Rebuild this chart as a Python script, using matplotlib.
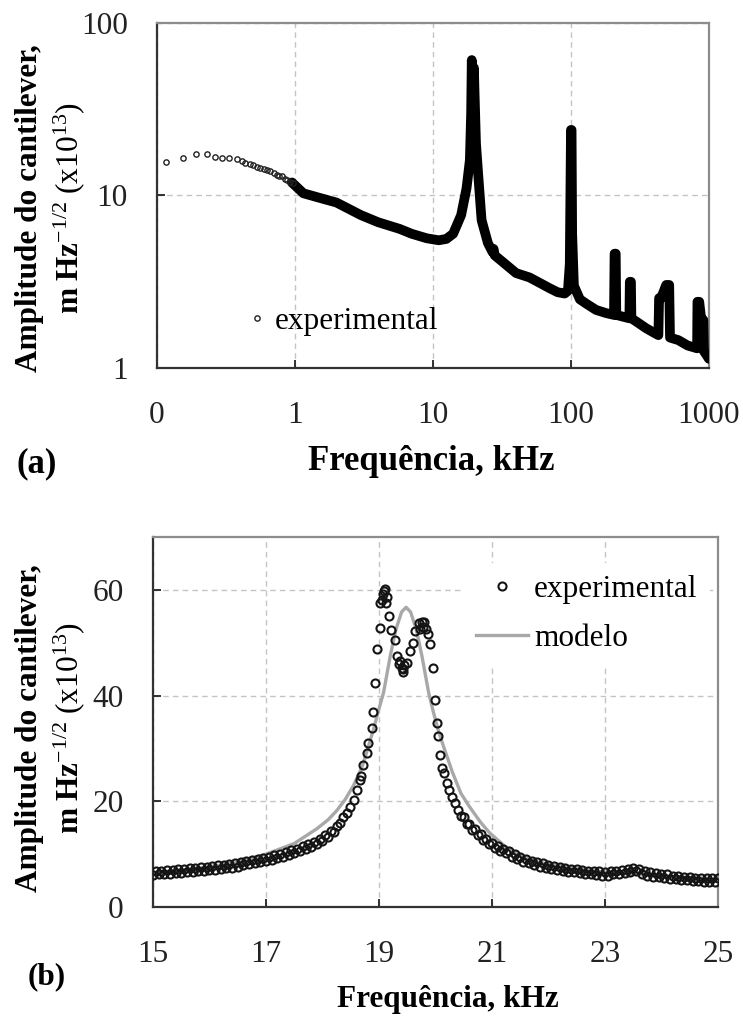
import matplotlib
matplotlib.use("Agg")
import matplotlib.pyplot as plt
from matplotlib.ticker import NullLocator

# ---- panel (a): full spectrum, log-log ----
sparse_f = [0.116, 0.154, 0.192, 0.229, 0.263, 0.294, 0.334, 0.378, 0.41, 0.434,
            0.47, 0.50, 0.528, 0.56, 0.60, 0.63, 0.659, 0.70, 0.74, 0.77,
            0.80, 0.84, 0.88, 0.92, 0.972]
sparse_a = [15.6, 16.6, 17.4, 17.4, 16.8, 16.6, 16.4, 16.2, 15.8, 15.4,
            15.2, 15.0, 14.7, 14.5, 14.2, 14.0, 13.9, 13.5, 13.2, 13.0,
            12.9, 12.5, 12.3, 12.0, 11.8]

dense_f = [0.95, 1.15, 1.5, 2.0, 3.0, 4.0, 5.74, 7.0, 9.0, 11.0, 12.5, 14.0,
           16.0, 17.5, 18.5, 18.9, 19.1, 19.4, 19.8, 20.0, 20.5, 21.3, 22.5, 25.0,
           27.0, 27.5, 28.0, 30.0, 40.0, 50.0, 60.0, 70.0, 80.0, 90.0, 95.0, 98.0,
           100.0, 101.0, 102.0, 105.0, 116.0, 130.0, 152.0, 180.0, 205.0, 207.0,
           211.0, 213.0, 240.0, 265.0, 267.0, 272.0, 274.0, 300.0, 350.0, 400.0,
           430.0, 435.0, 450.0, 490.0, 500.0, 515.0, 522.0, 600.0, 700.0, 820.0,
           825.0, 850.0, 880.0, 910.0, 920.0, 1000.0]
dense_a = [11.9, 10.3, 9.7, 9.1, 7.7, 7.0, 6.4, 6.0, 5.65, 5.5, 5.6, 6.0,
           7.7, 11.0, 16.0, 30.0, 61.0, 45.0, 55.0, 40.0, 20.0, 13.0, 7.2, 5.3,
           4.7, 4.9, 4.5, 4.3, 3.55, 3.35, 3.1, 2.9, 2.75, 2.7, 2.8, 4.0,
           24.0, 24.0, 6.0, 3.0, 2.5, 2.35, 2.17, 2.08, 2.03, 4.6,
           4.6, 2.03, 1.98, 1.94, 3.16, 3.16, 1.94, 1.85, 1.7, 1.6,
           1.55, 2.54, 2.54, 3.03, 3.03, 3.03, 1.5, 1.45, 1.35, 1.3,
           2.42, 2.42, 1.9, 1.9, 1.25, 1.13]

top_xticks = [0.1, 1, 10, 100, 1000]
top_xtick_labels = ["0", "1", "10", "100", "1000"]
top_yticks = [1, 10, 100]
top_ytick_labels = ["1", "10", "100"]

# ---- panel (b): zoom on first resonance ----
exp_f = [15.00, 15.05, 15.10, 15.15, 15.20, 15.25, 15.30, 15.35, 15.40, 15.45,
         15.50, 15.55, 15.60, 15.65, 15.70, 15.75, 15.80, 15.85, 15.90, 15.95,
         16.00, 16.05, 16.10, 16.15, 16.20, 16.25, 16.30, 16.35, 16.40, 16.45,
         16.50, 16.55, 16.60, 16.65, 16.70, 16.75, 16.80, 16.85, 16.90, 16.95,
         17.00, 17.05, 17.10, 17.15, 17.20, 17.25, 17.30, 17.35, 17.40, 17.45,
         17.50, 17.55, 17.60, 17.65, 17.70, 17.75, 17.80, 17.85, 17.90, 17.95,
         18.00, 18.05, 18.10, 18.15, 18.20, 18.25,
         18.31, 18.37, 18.43, 18.49, 18.55, 18.61, 18.66, 18.69, 18.72, 18.78,
         18.81, 18.87, 18.90, 18.93, 18.96, 19.01, 19.02, 19.06, 19.07, 19.09,
         19.11, 19.12, 19.14, 19.18, 19.21, 19.28, 19.32, 19.36, 19.38, 19.40,
         19.42, 19.43, 19.45, 19.49, 19.55, 19.60, 19.64, 19.70, 19.72, 19.76,
         19.78, 19.80, 19.83, 19.87, 19.91, 19.96, 19.99, 20.02, 20.05, 20.08,
         20.11, 20.15, 20.20, 20.24, 20.29, 20.35, 20.40,
         20.45, 20.50, 20.55, 20.60, 20.65, 20.70, 20.75, 20.80, 20.85, 20.90,
         20.95, 21.00, 21.05, 21.10, 21.15, 21.20, 21.25, 21.30, 21.35, 21.40,
         21.45, 21.50, 21.55, 21.60, 21.65, 21.70, 21.75, 21.80, 21.85, 21.90,
         21.95, 22.00, 22.05, 22.10, 22.15, 22.20, 22.25, 22.30, 22.35, 22.40,
         22.45, 22.50, 22.55, 22.60, 22.65, 22.70, 22.75, 22.80, 22.85, 22.90,
         22.95, 23.00, 23.05, 23.10, 23.15, 23.20, 23.25, 23.30, 23.35, 23.40,
         23.45, 23.50, 23.55, 23.60, 23.65, 23.70, 23.75, 23.80, 23.85, 23.90,
         23.95, 24.00, 24.05, 24.10, 24.15, 24.20, 24.25, 24.30, 24.35, 24.40,
         24.45, 24.50, 24.55, 24.60, 24.65, 24.70, 24.75, 24.80, 24.85, 24.90,
         24.95, 25.00]
exp_a = [6.10, 6.85, 6.15, 6.90, 6.25, 6.95, 6.30, 7.05, 6.35, 7.10,
         6.45, 7.20, 6.55, 7.30, 6.65, 7.40, 6.75, 7.50, 6.85, 7.60,
         6.95, 7.70, 7.05, 7.85, 7.20, 7.95, 7.35, 8.10, 7.45, 8.25,
         7.65, 8.45, 7.85, 8.65, 8.05, 8.85, 8.25, 9.05, 8.45, 9.25,
         8.65, 9.50, 8.95, 9.80, 9.25, 10.10, 9.55, 10.40, 9.85, 10.70,
         10.15, 11.05, 10.55, 11.45, 10.95, 11.85, 11.35, 12.30, 11.85, 12.85,
         12.45, 13.55, 13.25, 14.45, 14.25, 15.40,
         15.9, 17.1, 17.8, 19.0, 20.3, 22.2, 24.1, 24.7, 26.9, 29.2,
         31.1, 33.9, 36.8, 42.4, 48.8, 52.7, 57.6, 58.0, 59.2, 59.8,
         60.2, 57.5, 58.6, 55.0, 52.4, 50.5, 47.4, 45.9, 46.5, 45.3,
         44.5, 45.0, 45.8, 46.2, 48.4, 50.0, 52.2, 53.8, 52.5, 53.9,
         52.9, 54.0, 52.6, 51.6, 49.7, 45.3, 39.1, 34.9, 32.3, 28.8,
         26.3, 25.4, 23.5, 22.2, 20.9, 19.7, 18.4,
         17.30, 17.00, 15.70, 15.70, 14.60, 14.70, 13.60, 13.80, 12.70, 12.90,
         11.90, 12.20, 11.15, 11.55, 10.65, 11.05, 10.15, 10.55, 9.55, 9.95,
         9.05, 9.45, 8.55, 9.15, 8.25, 8.75, 7.95, 8.45, 7.65, 8.25,
         7.35, 7.95, 7.15, 7.75, 6.95, 7.55, 6.75, 7.45, 6.65, 7.25,
         6.55, 7.15, 6.35, 7.05, 6.25, 6.85, 6.15, 6.85, 6.05, 6.75,
         5.95, 6.65, 5.85, 6.75, 6.15, 6.85, 6.25, 6.95, 6.35, 7.15,
         6.55, 7.35, 6.75, 7.25, 6.25, 6.75, 5.95, 6.55, 5.75, 6.35,
         5.65, 6.25, 5.45, 6.15, 5.35, 5.95, 5.25, 5.85, 5.15, 5.75,
         5.05, 5.65, 4.95, 5.55, 4.85, 5.45, 4.75, 5.45, 4.65, 5.45,
         4.65, 5.45]

model_f = [15.0, 15.5, 16.0, 16.5, 17.0, 17.5, 17.9, 18.1, 18.25, 18.4, 18.55,
           18.7, 18.78, 18.9, 19.0, 19.08, 19.2, 19.3, 19.4, 19.48, 19.56, 19.66,
           19.76, 19.88, 19.96, 20.06, 20.18, 20.3, 20.45, 20.6, 20.8, 20.96,
           21.25, 21.55, 21.85, 22.15, 22.45, 22.73, 23.0, 23.5, 24.0, 24.5, 25.0]
model_a = [6.5, 7.0, 7.6, 8.5, 10.0, 12.0, 14.8, 16.5, 18.2, 20.3, 23.0,
           26.5, 29.2, 33.5, 37.5, 40.5, 47.5, 52.5, 55.8, 56.7, 55.8, 52.5,
           47.5, 40.5, 37.0, 33.0, 29.2, 25.5, 21.5, 19.0, 16.0, 14.0,
           11.3, 9.4, 8.4, 7.8, 7.3, 6.9, 6.6, 6.2, 5.9, 5.6, 5.3]

bot_xticks = [15, 17, 19, 21, 23, 25]
bot_yticks = [0, 20, 40, 60]

plt.rcParams["font.family"] = "Liberation Serif"
plt.rcParams["mathtext.fontset"] = "custom"
plt.rcParams["mathtext.rm"] = "Liberation Serif"
plt.rcParams["mathtext.bf"] = "Liberation Serif:bold"
plt.rcParams["mathtext.it"] = "Liberation Serif:italic"

FS = 22.5

fig = plt.figure(figsize=(7.43, 10.23), dpi=100)
ax1 = fig.add_axes([0.2113, 0.6403, 0.7429, 0.3372])
ax2 = fig.add_axes([0.2059, 0.1134, 0.7604, 0.3617])

grid_kw = dict(color="#c4c4c4", linestyle=(0, (4, 3)), linewidth=1)


def style(ax, xpad, ypad):
    ax.set_axisbelow(True)
    ax.grid(True, which="major", **grid_kw)
    ax.tick_params(direction="in", length=6, width=1.3, labelsize=FS,
                   colors="#222222")
    ax.tick_params(axis="x", pad=xpad)
    ax.tick_params(axis="y", pad=ypad)
    ax.tick_params(top=False, right=False)
    for s in ["left", "bottom"]:
        ax.spines[s].set_color("#333333")
        ax.spines[s].set_linewidth(1.6)
    for s in ["top", "right"]:
        ax.spines[s].set_color("#8c8c8c")
        ax.spines[s].set_linewidth(1.6)


# panel (a)
ax1.set_xscale("log")
ax1.set_yscale("log")
ax1.plot(dense_f, dense_a, color="black", lw=7, solid_joinstyle="round",
         solid_capstyle="round", zorder=3)
h_exp1, = ax1.plot(sparse_f, sparse_a, linestyle="none", marker="o",
                   markersize=3.8, markerfacecolor="none",
                   markeredgecolor="#222222", markeredgewidth=1.0, zorder=4)
ax1.set_xlim(0.1, 1000)
ax1.set_ylim(1, 100)
ax1.set_xticks(top_xticks)
ax1.set_xticklabels(top_xtick_labels)
ax1.set_yticks(top_yticks)
ax1.set_yticklabels(top_ytick_labels)
ax1.xaxis.set_minor_locator(NullLocator())
ax1.yaxis.set_minor_locator(NullLocator())
style(ax1, 24, 21)
ax1.legend([h_exp1], ["experimental"], loc="center left",
           bbox_to_anchor=(0.159, 0.136), frameon=False, fontsize=FS,
           handlelength=0.8, handletextpad=0.15, borderpad=0, borderaxespad=0)

# panel (b)
h_mod, = ax2.plot(model_f, model_a, color="#a8a8a8", lw=2.4, zorder=3)
h_exp2, = ax2.plot(exp_f, exp_a, linestyle="none", marker="o", markersize=5.8,
                   markerfacecolor="none", markeredgecolor="#141414",
                   markeredgewidth=1.5, zorder=4)
ax2.set_xlim(15, 25)
ax2.set_ylim(0, 70)
ax2.set_xticks(bot_xticks)
ax2.set_yticks(bot_yticks)
style(ax2, 24, 21)
leg = ax2.legend([h_exp2, h_mod], ["experimental", "modelo"], loc="upper left",
                 bbox_to_anchor=(0.549, 0.93), frameon=True, fontsize=FS,
                 handlelength=1.67, handletextpad=0.2, labelspacing=0.62,
                 borderpad=0.4, borderaxespad=0, fancybox=False)
leg.get_frame().set_facecolor("white")
leg.get_frame().set_edgecolor("none")
leg.get_frame().set_alpha(1)

# axis labels and panel tags
ylab1 = "Amplitude do cantilever,"
ylab2 = r"$\mathbf{m\ Hz}^{-1/2}\ \mathrm{(x10}^{13}\mathrm{)}$"
for yc in [208, 728]:
    fig.text(30 / 743, 1 - yc / 1023, ylab1, rotation=90, ha="center",
             va="center", fontsize=FS, fontweight="bold")
    fig.text(69 / 743, 1 - yc / 1023, ylab2, rotation=90, ha="center",
             va="center", fontsize=FS, fontweight="bold")

fig.text(431 / 743, 1 - 462 / 1023, "Frequência, kHz", ha="center",
         va="center", fontsize=25, fontweight="bold")
fig.text(448 / 743, 1 - 1000 / 1023, "Frequência, kHz", ha="center",
         va="center", fontsize=FS, fontweight="bold")
fig.text(17 / 743, 1 - 464 / 1023, "(a)", ha="left", va="center",
         fontsize=25, fontweight="bold")
fig.text(28 / 743, 1 - 977 / 1023, "(b)", ha="left", va="center",
         fontsize=FS, fontweight="bold")

fig.savefig("out.png", dpi=100)
